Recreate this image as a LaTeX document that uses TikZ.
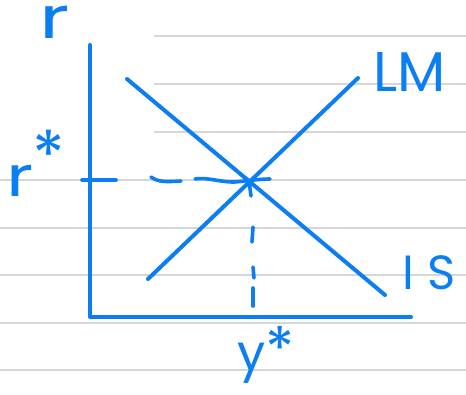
\documentclass[tikz,border=0pt]{standalone}
\usepackage{fontspec}
\usepackage{graphicx}
\setmainfont{Poppins}
\definecolor{ink}{RGB}{12,126,244}
\definecolor{rule}{RGB}{214,214,214}
\tikzset{
  ruleline/.style={draw=rule, line width=1.6pt},
  curve/.style={draw=ink, line width=4pt, line cap=round, line join=round},
  dashpart/.style={draw=ink, line width=3.6pt, line cap=round},
  lbl/.style={text=ink, inner sep=0pt, outer sep=0pt}
}
\begin{document}
\begin{tikzpicture}[x=1pt, y=-1pt]
\useasboundingbox (0,0) rectangle (466,394);
\fill[white] (0,0) rectangle (466,394);
% lined paper
\foreach \yy in {36,84,132} { \draw[ruleline] (154,\yy) -- (466,\yy); }
\foreach \yy in {180,228,275,323,370} { \draw[ruleline] (0,\yy) -- (466,\yy); }
% named points
\coordinate (ytop) at (90,45);
\coordinate (origin) at (90,317);
\coordinate (xend) at (411,317);
\coordinate (isA) at (127,79);
\coordinate (isB) at (385,295);
\coordinate (lmA) at (148,279);
\coordinate (lmB) at (358,78);
% axes
\draw[curve] (ytop) -- (origin) -- (xend);
% curves
\draw[curve] (isA) -- (isB);
\draw[curve] (lmA) -- (lmB);
% horizontal dashed guide
\draw[dashpart] (82,180) -- (116,180);
\draw[dashpart] (151,177) .. controls (158,182) and (165,182) .. (181,181);
\draw[dashpart] (195,179) .. controls (208,177) and (218,182) .. (234,182) .. controls (248,181) and (258,179) .. (270,179);
% vertical dashed guide
\draw[dashpart] (249,181) -- (251,196);
\draw[dashpart] (253,227) -- (252,242);
\draw[dashpart] (253,267) -- (254,278);
\draw[dashpart] (253,288) -- (253,306);
% labels
\node[lbl, font=\fontsize{58}{58}\selectfont, anchor=base] (rlab) at (55,38) {\scalebox{1.4}[1]{r}};
\node[lbl, font=\fontsize{56}{56}\selectfont] (rstar) at (36,163) {\scalebox{1.3}[1]{r}\hspace{-0.02em}\raisebox{0.3em}{\scalebox{1.2}{*}}};
\node[lbl, font=\fontsize{56}{56}\selectfont] (lmlab) at (410,72) {LM};
\node[lbl, font=\fontsize{48}{48}\selectfont] (islab) at (429,273) {I\hspace{0.26em}S};
\node[lbl, font=\fontsize{50}{50}\selectfont, anchor=base west] (ystar) at (237,370) {y\scalebox{1.2}{*}};
\end{tikzpicture}
\end{document}
